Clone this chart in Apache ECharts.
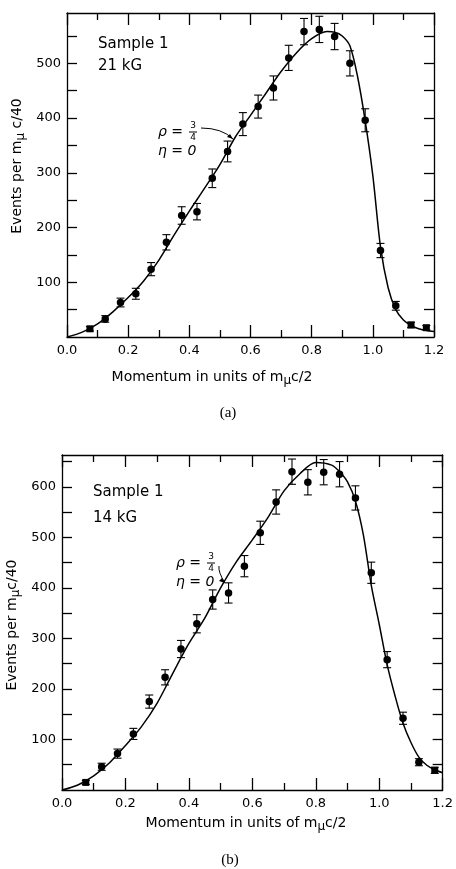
<!DOCTYPE html>
<html>
<head>
<meta charset="utf-8">
<script src="https://cdn.jsdelivr.net/npm/echarts@6/dist/echarts.min.js"></script>
<style>
html,body{margin:0;padding:0;background:#fff}
#chart{width:456px;height:869px}
</style>
</head>
<body>
<div id="chart"></div>
<script>
// momentum bins, units of m_mu c/2
var bins = [0.075,0.125,0.175,0.225,0.275,0.325,0.375,0.425,0.475,0.525,0.575,0.625,
            0.675,0.725,0.775,0.825,0.875,0.925,0.975,1.025,1.075,1.125,1.175];

// (a) 21 kG
var eventsA = [15,33,63,79,124,173,222,229,290,339,389,421,455,510,558,562,549,500,396,158,57,22,17];
var errA    = [4,6,8,10,12,14,16,15,17,19,21,21,22,23,24,24,24,23,21,13,8,5,4];

// (b) 14 kG
var eventsB = [15,46,72,111,175,223,279,329,377,390,443,509,570,630,609,629,625,578,430,258,142,55,39];
var errB    = [4,7,9,11,13,15,17,18,19,20,21,23,24,25,25,25,25,24,21,16,12,7,6];

// theory curve rho=3/4, eta=0
var curveX = [0,0.05,0.1,0.15,0.2,0.25,0.3,0.35,0.4,0.45,0.5,0.55,0.6,0.65,0.7,0.75,0.8,0.85,
              0.875,0.9,0.925,0.95,0.975,1.0,1.025,1.05,1.075,1.1,1.125,1.15,1.175,1.2];
var curveA = [0,9,24,46,72,102,140,186,230,272,315,365,405,445,485,519,545,558,
              557,550,532,476,395,295,165,90,50,31,21,15,12,10];
var curveB = [0,10,28,54,88,125,172,232,290,340,400,452,495,540,592,626,648,643,
              630,610,572,505,405,328,248,186,132,94,65,49,40,34];

// axis ticks / labels
var xLabels = [0,0.2,0.4,0.6,0.8,1.0,1.2];
var yTicksA = [50,100,150,200,250,300,350,400,450,500,550];
var yLabelsA = [100,200,300,400,500];
var yTicksB = [50,100,150,200,250,300,350,400,450,500,550,600,650];
var yLabelsB = [100,200,300,400,500,600];

var squaresA = [0,21,22];
var squaresB = [0,22];

var FONT = 'DejaVu Sans';

function pairs(xs, ys){
    return xs.map(function(x,i){ return [x, ys[i]]; });
}
function triples(xs, ys, es){
    return xs.map(function(x,i){ return [x, ys[i], es[i]]; });
}

function errRender(params, api){
    var x = api.value(0), y = api.value(1), e = api.value(2);
    var lo = api.coord([x, y - e]);
    var hi = api.coord([x, y + e]);
    var w = 4;
    var st = {stroke:'#000', lineWidth:1.1};
    return {type:'group', children:[
        {type:'line', shape:{x1:lo[0],y1:lo[1],x2:hi[0],y2:hi[1]}, style:st},
        {type:'line', shape:{x1:lo[0]-w,y1:lo[1],x2:lo[0]+w,y2:lo[1]}, style:st},
        {type:'line', shape:{x1:hi[0]-w,y1:hi[1],x2:hi[0]+w,y2:hi[1]}, style:st}
    ]};
}

function xAxes(gi){
    var base = {
        type:'value', gridIndex:gi, min:0, max:1.2, interval:0.2,
        axisLine:{show:true, onZero:false, lineStyle:{color:'#000', width:1.3}},
        axisTick:{show:true, inside:true, length:12, lineStyle:{color:'#000', width:1.3}},
        minorTick:{show:true, splitNumber:2, length:7, lineStyle:{color:'#000', width:1.3}},
        splitLine:{show:false}
    };
    var bottom = echarts.util.merge({
        position:'bottom',
        axisLabel:{color:'#000', fontFamily:FONT, fontSize:13, margin:7,
            customValues:xLabels, formatter:function(v){ return v.toFixed(1); }}
    }, base, true);
    var top = echarts.util.merge({position:'top', axisLabel:{show:false}}, base, true);
    return [bottom, top];
}

function yAxes(gi, ymax, ticks, labels){
    var base = {
        type:'value', gridIndex:gi, min:0, max:ymax,
        axisLine:{show:true, onZero:false, lineStyle:{color:'#000', width:1.3}},
        axisTick:{show:true, inside:true, length:10, customValues:ticks, lineStyle:{color:'#000', width:1.3}},
        splitLine:{show:false}
    };
    var left = echarts.util.merge({
        position:'left',
        axisLabel:{color:'#000', fontFamily:FONT, fontSize:13, margin:6, customValues:labels}
    }, base, true);
    var right = echarts.util.merge({position:'right', axisLabel:{show:false},
        axisTick:{length:8}}, base, true);
    return [left, right];
}

function panelSeries(xi, yi, events, errs, curve, squares){
    return [
        {
            type:'line', xAxisIndex:xi, yAxisIndex:yi,
            data:pairs(curveX, curve), smooth:0.3,
            showSymbol:false, symbol:'none', clip:true,
            lineStyle:{color:'#000', width:1.5}, z:2, silent:true
        },
        {
            type:'custom', xAxisIndex:xi, yAxisIndex:yi,
            data:triples(bins, events, errs), renderItem:errRender, z:3, silent:true
        },
        {
            type:'scatter', xAxisIndex:xi, yAxisIndex:yi,
            data:pairs(bins, events),
            symbol:function(v, p){ return squares.indexOf(p.dataIndex) >= 0 ? 'rect' : 'circle'; },
            symbolSize:function(v, p){ return squares.indexOf(p.dataIndex) >= 0 ? 7 : 7.5; },
            itemStyle:{color:'#000', opacity:1}, z:4, silent:true
        }
    ];
}

function txt(x, y, s, size, extra){
    var o = {type:'text', x:x, y:y, silent:true, style:{
        text:s, fill:'#000', font:size + 'px "' + FONT + '"',
        textAlign:'left', textVerticalAlign:'middle'}};
    if(extra){ echarts.util.merge(o.style, extra, true); }
    return o;
}

// rho = 3/4 , eta = 0 label plus its arrow
function rhoLabel(x, y, arrow){
    var els = [
        txt(x, y, 'ρ =', 14, {font:'italic 14px "' + FONT + '"'}),
        txt(x + 35, y - 6, '3', 9, {textAlign:'center'}),
        {type:'line', silent:true, shape:{x1:x+31, y1:y, x2:x+39, y2:y}, style:{stroke:'#000', lineWidth:1}},
        txt(x + 35, y + 6, '4', 9, {textAlign:'center'}),
        txt(x, y + 19, 'η = 0', 14, {font:'italic 14px "' + FONT + '"'}),
        {type:'bezierCurve', silent:true, shape:{
            x1:arrow[0], y1:arrow[1], cpx1:arrow[2], cpy1:arrow[3], x2:arrow[4], y2:arrow[5]},
            style:{stroke:'#000', lineWidth:1, fill:null}},
        {type:'polygon', silent:true, shape:{points:[
            [arrow[4], arrow[5]], [arrow[4]-6, arrow[5]-2], [arrow[4]-3, arrow[5]-5]]},
            style:{fill:'#000'}}
    ];
    return els;
}

function richTitle(main1, sub, main2, size){
    return {
        text:'{n|' + main1 + '}{s|' + sub + '}{n|' + main2 + '}',
        rich:{
            n:{fontFamily:FONT, fontSize:size, fill:'#000'},
            s:{fontFamily:FONT, fontSize:size-2, fill:'#000', padding:[7,0,0,0]}
        },
        textAlign:'center', textVerticalAlign:'middle'
    };
}

function initChart(){
    var chart = echarts.init(document.getElementById('chart'), null, {renderer:'canvas'});
    var xa = xAxes(0), xb = xAxes(1);
    var ya = yAxes(0, 592, yTicksA, yLabelsA), yb = yAxes(1, 663, yTicksB, yLabelsB);

    var graphics = [
        txt(98, 44, 'Sample 1', 15),
        txt(98, 66, '21 kG', 15),
        txt(93, 492, 'Sample 1', 15),
        txt(93, 518, '14 kG', 15),
        {type:'text', x:212, y:377, silent:true, style:richTitle('Momentum in units of m', 'μ', 'c/2', 14)},
        {type:'text', x:246, y:823, silent:true, style:richTitle('Momentum in units of m', 'μ', 'c/2', 14)},
        {type:'text', x:17, y:166, rotation:Math.PI/2, silent:true, style:richTitle('Events per m', 'μ', ' c/40', 14)},
        {type:'text', x:12, y:625, rotation:Math.PI/2, silent:true, style:richTitle('Events per m', 'μ', 'c/40', 14)},
        txt(228, 413, '(a)', 15, {textAlign:'center', font:'15px "Liberation Serif"'}),
        txt(230, 860, '(b)', 15, {textAlign:'center', font:'15px "Liberation Serif"'})
    ];
    graphics = graphics.concat(rhoLabel(158, 132, [201,128, 222,128, 233,139]));
    graphics = graphics.concat(rhoLabel(176, 563, [219,566, 218,572, 225,583]));

    var option = {
        backgroundColor:'#fff',
        animation:false,
        grid:[
            {left:67, top:13, width:367, height:324},
            {left:62, top:455, width:381, height:335}
        ],
        xAxis:[xa[0], xa[1], echarts.util.merge({gridIndex:1}, xb[0], true), echarts.util.merge({gridIndex:1}, xb[1], true)],
        yAxis:[ya[0], ya[1], yb[0], yb[1]],
        series:[].concat(
            panelSeries(0, 0, eventsA, errA, curveA, squaresA),
            panelSeries(2, 2, eventsB, errB, curveB, squaresB)
        ),
        graphic:graphics
    };
    chart.setOption(option);
}

initChart();
</script>
</body>
</html>
